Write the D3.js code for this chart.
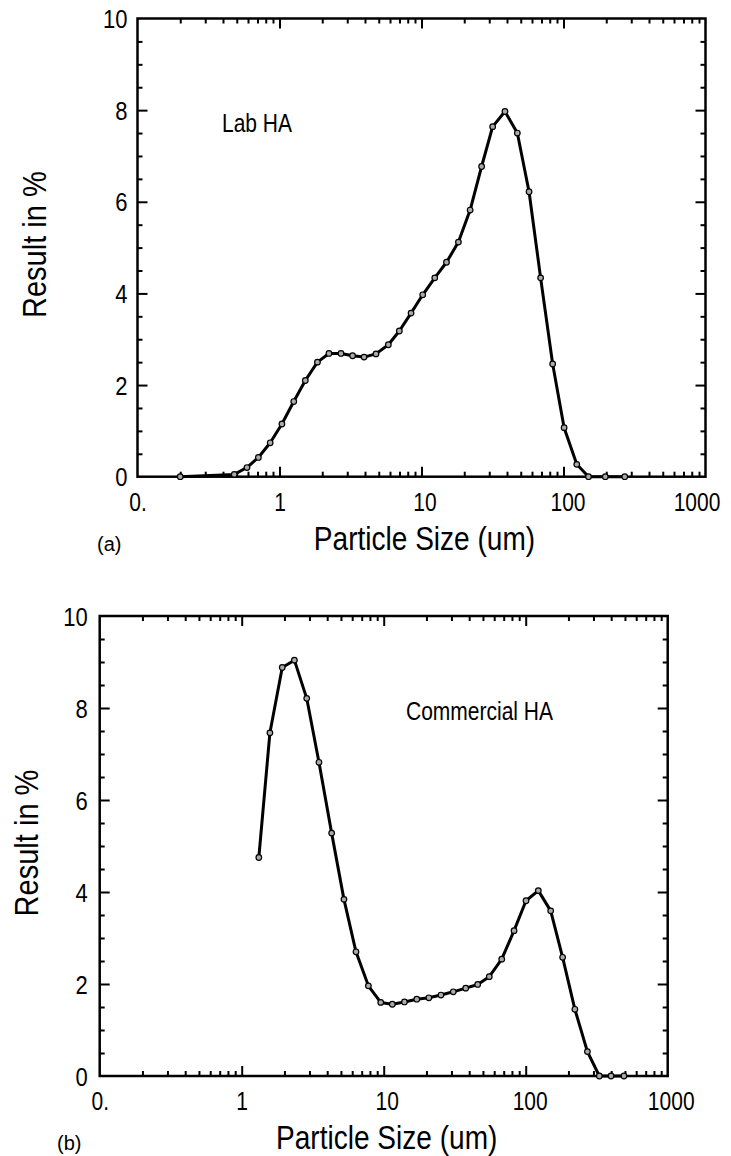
<!DOCTYPE html>
<html><head><meta charset="utf-8">
<script src="https://cdn.jsdelivr.net/npm/d3@7"></script>
<style>
html,body{margin:0;padding:0;background:#fff;}
text{font-family:"Liberation Sans",Arial,sans-serif;fill:#000;}
</style></head>
<body>
<svg id="chart" width="731" height="1156"></svg>
<script>
// ---- data ----
const labSize = [0.2, 0.48, 0.59, 0.71, 0.86, 1.04, 1.26, 1.52, 1.85, 2.23, 2.71, 3.27, 3.94, 4.78, 5.84, 6.98, 8.44, 10.2, 12.4, 15.0, 18.2, 22.0, 26.5, 31.7, 38.7, 47.3, 57.2, 69.0, 83.9, 101, 124, 150, 197, 270];
const labPct  = [0, 0.05, 0.2, 0.42, 0.74, 1.15, 1.64, 2.10, 2.50, 2.69, 2.69, 2.64, 2.61, 2.68, 2.88, 3.18, 3.57, 3.97, 4.34, 4.68, 5.12, 5.82, 6.77, 7.64, 7.97, 7.50, 6.22, 4.34, 2.46, 1.07, 0.27, 0, 0, 0];
const commSize = [1.32, 1.58, 1.93, 2.35, 2.87, 3.50, 4.30, 5.25, 6.38, 7.80, 9.53, 11.5, 14.0, 17.1, 20.8, 25.3, 30.9, 37.8, 45.9, 55.4, 67.8, 82.8, 100.5, 122.7, 150, 182, 222, 272, 330, 399, 492];
const commPct  = [4.75, 7.46, 8.88, 9.04, 8.21, 6.82, 5.28, 3.84, 2.70, 1.96, 1.60, 1.56, 1.61, 1.67, 1.70, 1.76, 1.83, 1.91, 1.99, 2.16, 2.54, 3.16, 3.81, 4.03, 3.59, 2.58, 1.45, 0.53, 0, 0, 0];
const xTickValues = [0.1, 1, 10, 100, 1000];
const xTickLabels = ["0.", "1", "10", "100", "1000"];
const yTickValues = [0, 2, 4, 6, 8, 10];
const xTitle = "Particle Size (um)";
const yTitle = "Result in %";

const svg = d3.select("#chart");

function compress(sel, f) {
  sel.each(function () {
    const w = this.getComputedTextLength();
    d3.select(this).attr("textLength", w * f).attr("lengthAdjust", "spacingAndGlyphs");
  });
}

function panel(cfg) {
  const x = d3.scaleLog().domain([0.1, 1000]).range([cfg.left, cfg.right]);
  const y = d3.scaleLinear().domain([0, 10]).range([cfg.bottom, cfg.top]);
  const g = svg.append("g");
  const minorX = [];
  [0.1, 1, 10, 100].forEach(d => { for (let k = 2; k <= 9; k++) minorX.push(d * k); });
  const majorX = [1, 10, 100];
  const minorY = d3.range(0.5, 10, 0.5).filter(v => v % 2 !== 0);
  const majorY = [2, 4, 6, 8];

  function styleAxis(sel) {
    sel.select(".domain").remove();
    sel.selectAll(".tick line").attr("stroke", "#000").attr("stroke-width", 2);
    sel.selectAll(".tick text").remove();
  }
  g.append("g").attr("transform", `translate(0,${cfg.bottom})`)
    .call(d3.axisBottom(x).tickValues(minorX).tickSize(-5).tickFormat("")).call(styleAxis);
  g.append("g").attr("transform", `translate(0,${cfg.bottom})`)
    .call(d3.axisBottom(x).tickValues(majorX).tickSize(-10).tickFormat("")).call(styleAxis);
  g.append("g").attr("transform", `translate(0,${cfg.top})`)
    .call(d3.axisTop(x).tickValues(minorX).tickSize(-5).tickFormat("")).call(styleAxis);
  g.append("g").attr("transform", `translate(0,${cfg.top})`)
    .call(d3.axisTop(x).tickValues(majorX).tickSize(-10).tickFormat("")).call(styleAxis);
  g.append("g").attr("transform", `translate(${cfg.left},0)`)
    .call(d3.axisLeft(y).tickValues(minorY).tickSize(-5).tickFormat("")).call(styleAxis);
  g.append("g").attr("transform", `translate(${cfg.left},0)`)
    .call(d3.axisLeft(y).tickValues(majorY).tickSize(-10).tickFormat("")).call(styleAxis);
  g.append("g").attr("transform", `translate(${cfg.right},0)`)
    .call(d3.axisRight(y).tickValues(minorY).tickSize(-5).tickFormat("")).call(styleAxis);
  g.append("g").attr("transform", `translate(${cfg.right},0)`)
    .call(d3.axisRight(y).tickValues(majorY).tickSize(-10).tickFormat("")).call(styleAxis);

  g.append("rect").attr("x", cfg.left).attr("y", cfg.top)
    .attr("width", cfg.right - cfg.left).attr("height", cfg.bottom - cfg.top)
    .attr("fill", "none").attr("stroke", "#000").attr("stroke-width", 2.5);

  const xl = g.append("g").attr("transform", `translate(0,${cfg.bottom})`)
    .call(d3.axisBottom(x).tickValues(xTickValues).tickSize(0).tickPadding(0)
      .tickFormat((d, i) => xTickLabels[i]));
  xl.select(".domain").remove();
  xl.selectAll(".tick text").attr("font-size", 25).attr("dy", null).attr("y", 34)
    .attr("x", (d, i) => [0, 0, 3, 4, cfg.lastShift][i])
    .attr("font-family", null).attr("fill", "#000").call(compress, 0.84);
  const yl = g.append("g").attr("transform", `translate(${cfg.left},0)`)
    .call(d3.axisLeft(y).tickValues(yTickValues).tickSize(0).tickPadding(cfg.ypad));
  yl.select(".domain").remove();
  yl.selectAll(".tick text").attr("font-size", 25).attr("dy", "0.36em")
    .attr("font-family", null).attr("fill", "#000").call(compress, 0.88);

  g.append("text").attr("x", (cfg.left + cfg.right) / 2 + 3).attr("y", cfg.bottom + 73)
    .attr("text-anchor", "middle").attr("font-size", 33).text(xTitle).call(compress, 0.85);
  g.append("text").attr("transform", `translate(${cfg.ytx},${(cfg.top + cfg.bottom) / 2 - 3}) rotate(-90)`)
    .attr("text-anchor", "middle").attr("font-size", 33).text(yTitle).call(compress, 0.88);
  g.append("text").attr("x", cfg.tagX).attr("y", cfg.bottom + 74)
    .attr("font-family", '"Liberation Serif","Times New Roman",serif')
    .attr("font-size", 20).text(cfg.tag);
  g.append("text").attr("x", cfg.labX).attr("y", cfg.labY)
    .attr("font-size", 25).text(cfg.label).call(compress, 0.84);

  const pts = cfg.xs.map((v, i) => [v, cfg.ys[i]]);
  g.append("path").datum(pts)
    .attr("d", d3.line().x(d => x(d[0])).y(d => y(d[1])))
    .attr("fill", "none").attr("stroke", "#000").attr("stroke-width", 3)
    .attr("stroke-linejoin", "round");
  g.selectAll("circle.pt").data(pts).join("circle").attr("class", "pt")
    .attr("cx", d => x(d[0])).attr("cy", d => y(d[1])).attr("r", 2.8)
    .attr("fill", "#aaa").attr("stroke", "#000").attr("stroke-width", 1.2);
}

panel({left: 137.5, right: 705.5, top: 18.5, bottom: 476.7, ypad: 10, ytx: 46, lastShift: -9,
  xs: labSize, ys: labPct, label: "Lab HA", labX: 222, labY: 132, tag: "(a)", tagX: 97});
panel({left: 99.7, right: 667.7, top: 616, bottom: 1076, ypad: 12, ytx: 38, lastShift: 3,
  xs: commSize, ys: commPct, label: "Commercial HA", labX: 406, labY: 720, tag: "(b)", tagX: 57});
</script>
</body></html>
